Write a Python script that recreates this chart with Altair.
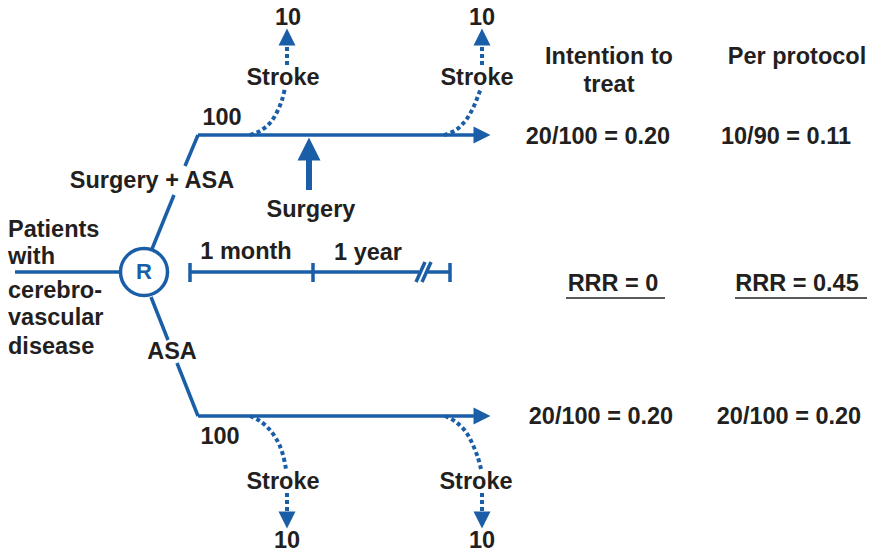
import altair as alt
import pandas as pd

BLUE = "#1a5ea8"
INK = "#231f20"
GREY = "#58595b"
FONT = "Liberation Sans"
FS = 23.5
FS_COUNT = 23.5

# ---- text labels (text, x, y) ----
lab_text = ["Stroke", "Stroke", "100", "Surgery + ASA", "Surgery",
            "1 month", "1 year", "ASA", "100", "Stroke", "Stroke",
            "Intention to", "treat", "Per protocol",
            "20/100 = 0.20", "10/90 = 0.11", "RRR = 0", "RRR = 0.45",
            "20/100 = 0.20", "20/100 = 0.20"]
lab_x = [283, 477, 222, 152, 311,
         246, 368, 172, 220, 283, 476,
         609, 609, 797,
         598, 786, 613, 797,
         601, 789]
lab_y = [78, 78, 118, 181, 210,
         252, 253, 352, 437, 482, 482,
         57, 85, 57,
         137, 137, 284, 284,
         417, 417]

# stroke counts at the arrow tips
cnt_text = ["10", "10", "10", "10"]
cnt_x = [288, 482, 287, 482]
cnt_y = [18, 18, 541, 541]

pat_text = ["Patients", "with", "cerebro-", "vascular", "disease"]
pat_x = [8, 8, 8, 8, 8]
pat_y = [230, 257, 291, 318, 347]

# ---- solid blue segments (x1, y1, x2, y2) ----
seg_x1 = [15, 152, 185, 151, 177, 198, 198, 190, 428, 190, 313, 450, 416, 422]
seg_y1 = [272, 249, 166, 297, 363, 135, 416, 272, 272, 263, 263, 263, 282, 282]
seg_x2 = [120, 174, 198, 168, 198, 476, 476, 419, 450, 190, 313, 450, 425, 431]
seg_y2 = [272, 195, 135, 340, 416, 135, 416, 272, 272, 282, 282, 282, 262, 262]

# surgery arrow shaft
shaft_x1 = [309]
shaft_y1 = [190]
shaft_x2 = [309]
shaft_y2 = [158]

# underlines
ul_x1 = [566, 735]
ul_x2 = [665, 867]
ul_y = [298, 298]

# dotted curves (curve id, x, y)
cur_id = ["ul"] * 6 + ["ur"] * 6 + ["ll"] * 6 + ["lr"] * 6
cur_x = [250, 260, 270, 277, 282, 285,
         444, 456, 466, 473, 478, 481,
         250, 260, 270, 278, 283, 286,
         445, 456, 466, 473, 478, 481]
cur_y = [135, 131, 123, 112, 100, 88,
         135, 130, 120, 108, 96, 88,
         416, 421, 430, 442, 455, 469,
         416, 422, 432, 445, 458, 469]

# straight dotted parts beyond labels
dot_x = [287, 482, 287, 482]
dot_y1 = [65, 65, 493, 493]
dot_y2 = [45, 45, 512, 512]

# arrow heads (x, y centre, direction, size)
head_x = [287, 482, 287, 482, 482, 482, 309]
head_y = [37, 37, 520, 520, 135, 416, 149]
head_dir = ["up", "up", "down", "down", "right", "right", "up"]
head_sz = [17, 17, 17, 17, 17, 17, 23]

# randomisation circle
circ_x = [144]
circ_y = [272]

W, H = 859, 542
X = lambda f="x": alt.X(f"{f}:Q", scale=alt.Scale(domain=[8, 8 + W], nice=False, zero=False), axis=None)
Y = lambda f="y": alt.Y(f"{f}:Q", scale=alt.Scale(domain=[8, 8 + H], nice=False, zero=False, reverse=True), axis=None)

segs = pd.DataFrame({"x": seg_x1, "y": seg_y1, "x2": seg_x2, "y2": seg_y2})
seg_layer = alt.Chart(segs).mark_rule(color=BLUE, strokeWidth=3.5, strokeCap="butt").encode(
    x=X(), y=Y(), x2="x2:Q", y2="y2:Q")

shaft = pd.DataFrame({"x": shaft_x1, "y": shaft_y1, "x2": shaft_x2, "y2": shaft_y2})
shaft_layer = alt.Chart(shaft).mark_rule(color=BLUE, strokeWidth=6).encode(
    x=X(), y=Y(), x2="x2:Q", y2="y2:Q")

ul = pd.DataFrame({"x": ul_x1, "x2": ul_x2, "y": ul_y})
ul_layer = alt.Chart(ul).mark_rule(color=GREY, strokeWidth=2).encode(x=X(), x2="x2:Q", y=Y())

cur = pd.DataFrame({"id": cur_id, "x": cur_x, "y": cur_y, "i": list(range(len(cur_x)))})
cur_layer = alt.Chart(cur).mark_line(color=BLUE, strokeWidth=4, strokeDash=[4, 3],
                                     interpolate="cardinal").encode(
    x=X(), y=Y(), detail="id:N", order="i:Q")

dots = pd.DataFrame({"x": dot_x, "y": dot_y1, "y2": dot_y2})
dot_layer = alt.Chart(dots).mark_rule(color=BLUE, strokeWidth=4, strokeDash=[4, 3]).encode(
    x=X(), y=Y(), y2="y2:Q")

paths = {"up": "M0,-1L1,1L-1,1Z", "down": "M0,1L1,-1L-1,-1Z", "right": "M1,0L-1,1L-1,-1Z"}
heads = []
for hx, hy, hd, hs in zip(head_x, head_y, head_dir, head_sz):
    d = pd.DataFrame({"x": [hx], "y": [hy]})
    heads.append(alt.Chart(d).mark_point(shape=paths[hd], filled=True, color=BLUE, opacity=1,
                                         size=hs * hs, strokeWidth=0).encode(x=X(), y=Y()))

circ = pd.DataFrame({"x": circ_x, "y": circ_y, "t": ["R"]})
circ_layer = alt.Chart(circ).mark_point(shape="circle", size=47 * 47, stroke=BLUE, strokeWidth=3.5,
                                        fill="white", opacity=1, fillOpacity=1).encode(x=X(), y=Y())
r_layer = alt.Chart(circ).mark_text(font=FONT, fontSize=22, fontWeight="bold", color=BLUE,
                                    baseline="middle").encode(x=X(), y=Y(), text="t:N")

labs = pd.DataFrame({"t": lab_text, "x": lab_x, "y": lab_y})
lab_layer = alt.Chart(labs).mark_text(font=FONT, fontSize=FS, fontWeight="bold", color=INK,
                                      baseline="middle", align="center").encode(x=X(), y=Y(), text="t:N")

cnt = pd.DataFrame({"t": cnt_text, "x": cnt_x, "y": cnt_y})
cnt_layer = alt.Chart(cnt).mark_text(font=FONT, fontSize=FS_COUNT, fontWeight="bold", color=INK,
                                     baseline="middle", align="center").encode(x=X(), y=Y(), text="t:N")

pat = pd.DataFrame({"t": pat_text, "x": pat_x, "y": pat_y})
pat_layer = alt.Chart(pat).mark_text(font=FONT, fontSize=FS, fontWeight="bold", color=INK,
                                     baseline="middle", align="left").encode(x=X(), y=Y(), text="t:N")

chart = alt.layer(seg_layer, shaft_layer, ul_layer, cur_layer, dot_layer, *heads,
                  circ_layer, r_layer, lab_layer, cnt_layer, pat_layer).properties(
    width=W, height=H, padding=0,
    autosize=alt.AutoSizeParams(type="none")).configure_view(stroke=None)

chart.save("out.html", embed_options={"renderer": "svg", "actions": False})
